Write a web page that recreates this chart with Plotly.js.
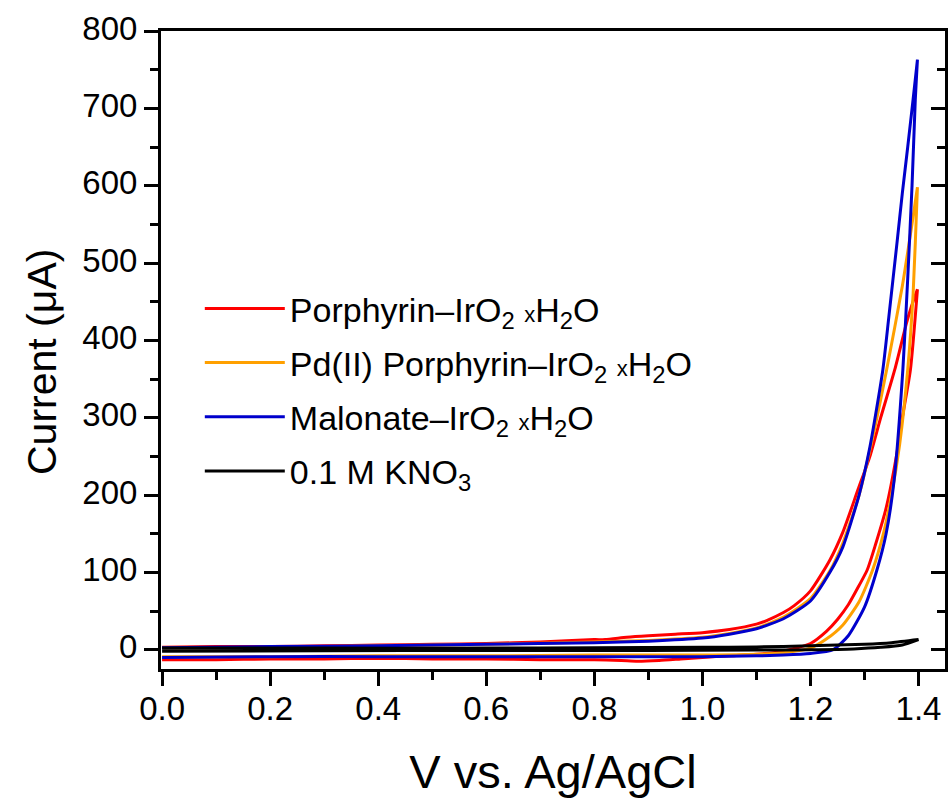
<!DOCTYPE html>
<html>
<head>
<meta charset="utf-8">
<script src="https://cdn.plot.ly/plotly-3.0.1.min.js"></script>
<style>html,body{margin:0;padding:0;background:#fff;}#chart{width:948px;height:798px;}</style>
</head>
<body>
<div id="chart"></div>
<script>
// ---- Data (V vs. Ag/AgCl, current in µA) ----
// Porphyrin–IrO2·xH2O : forward (lower) branch, then return (upper) branch
var porphFwdV = [0, 0.1, 0.2, 0.3, 0.4, 0.5, 0.6, 0.7, 0.8, 0.85, 0.88, 0.92, 0.96, 1.0, 1.05, 1.1, 1.15, 1.2, 1.23, 1.25, 1.27, 1.29, 1.305, 1.32, 1.34, 1.36, 1.37, 1.385, 1.398];
var porphFwdI = [-13, -13, -12, -12, -11, -12, -12, -13, -13, -14, -15, -14, -12, -10, -8, -6, -2, 8, 24, 39, 58, 83, 103, 135, 183, 254, 300, 362, 466];
var porphRevV = [1.398, 1.387, 1.378, 1.356, 1.33, 1.31, 1.288, 1.26, 1.236, 1.2, 1.17, 1.15, 1.12, 1.1, 1.05, 1.0, 0.95, 0.9, 0.86, 0.82, 0.8, 0.7, 0.6, 0.5, 0.4, 0.3, 0.2, 0.1, 0];
var porphRevI = [466, 444, 423, 362, 300, 250, 207, 152, 116, 76, 57, 48, 38, 33, 26, 22, 20, 18, 16, 13, 13, 10, 8, 7, 6, 5, 4, 4, 3];

// Pd(II) Porphyrin–IrO2·xH2O
var pdFwdV = [0, 0.2, 0.4, 0.6, 0.8, 0.9, 1.0, 1.1, 1.15, 1.2, 1.23, 1.26, 1.29, 1.315, 1.335, 1.35, 1.365, 1.38, 1.39, 1.398];
var pdFwdI = [-9, -9, -8, -8, -7, -7, -7, -6, -4, 2, 14, 32, 62, 103, 150, 200, 265, 362, 460, 598];
var pdRevV = [1.398, 1.39, 1.37, 1.341, 1.32, 1.29, 1.26, 1.236, 1.2, 1.15, 1.1, 1.05, 1.0, 0.9, 0.8, 0.6, 0.4, 0.2, 0];
var pdRevI = [598, 560, 470, 362, 290, 200, 138, 102, 66, 42, 28, 21, 16, 12, 10, 7, 5, 3, 2];

// Malonate–IrO2·xH2O
var malFwdV = [0, 0.2, 0.4, 0.6, 0.8, 0.9, 1.0, 1.1, 1.15, 1.2, 1.242, 1.27, 1.3, 1.323, 1.34, 1.355, 1.371, 1.38, 1.388, 1.394, 1.398];
var malFwdI = [-10, -9, -9, -9, -9, -9, -9, -8, -7, -5, 0, 18, 55, 103, 150, 220, 362, 480, 600, 711, 763];
var malRevV = [1.398, 1.39, 1.38, 1.37, 1.36, 1.345, 1.334, 1.31, 1.29, 1.26, 1.236, 1.2, 1.15, 1.1, 1.05, 1.0, 0.9, 0.8, 0.6, 0.4, 0.2, 0];
var malRevI = [763, 712, 650, 590, 525, 430, 362, 262, 200, 133, 100, 63, 40, 27, 20, 15, 11, 9, 7, 5, 4, 2.5];

// 0.1 M KNO3 blank
var kno3FwdV = [0, 0.3, 0.6, 0.9, 1.1, 1.2, 1.28, 1.33, 1.37, 1.4];
var kno3FwdI = [-2, -1.5, -1, -1, -0.5, 0, 1, 3, 6, 13];
var kno3RevV = [1.4, 1.35, 1.3, 1.2, 1.1, 1.0, 0.8, 0.6, 0.3, 0];
var kno3RevI = [13, 9, 7, 5, 3.5, 3, 2.5, 2, 2, 2];

var seriesNames = [
  'Porphyrin\u2013IrO<sub>2</sub> <span style="font-size:22px">x</span>H<sub>2</sub>O',
  'Pd(II) Porphyrin\u2013IrO<sub>2</sub> <span style="font-size:22px">x</span>H<sub>2</sub>O',
  'Malonate\u2013IrO<sub>2</sub> <span style="font-size:22px">x</span>H<sub>2</sub>O',
  '0.1 M KNO<sub>3</sub>'
];
var seriesColors = ['#ff0000', '#ffa000', '#0000cc', '#000000'];
var yTickVals = [0, 100, 200, 300, 400, 500, 600, 700, 800];
var xTickVals = [0.0, 0.2, 0.4, 0.6, 0.8, 1.0, 1.2, 1.4];
var xTitle = 'V vs. Ag/AgCl';
var yTitle = 'Current (\u03bcA)';

// ---- Build traces (each CV is a closed loop: forward branch + return branch) ----
var loops = [
  [porphFwdV.concat(porphRevV), porphFwdI.concat(porphRevI)],
  [pdFwdV.concat(pdRevV), pdFwdI.concat(pdRevI)],
  [malFwdV.concat(malRevV), malFwdI.concat(malRevI)],
  [kno3FwdV.concat(kno3RevV), kno3FwdI.concat(kno3RevI)]
];
var traces = loops.map(function (lp, i) {
  return {
    x: lp[0], y: lp[1], type: 'scatter', mode: 'lines',
    name: seriesNames[i], legendgroup: 'g' + i,
    yaxis: (i === 3 ? 'y2' : 'y'),
    line: {color: seriesColors[i], width: 3, shape: 'spline', smoothing: 0.6},
    hoverinfo: 'skip'
  };
});

var FONT = 'Arial, "Liberation Sans", sans-serif';
var yRange = [-25, 800];

var layout = {
  width: 948, height: 798,
  margin: {l: 161, r: 3, t: 31, b: 129, pad: 0},
  paper_bgcolor: '#ffffff', plot_bgcolor: '#ffffff',
  font: {family: FONT, color: '#000000', size: 33},
  showlegend: true,
  legend: {
    x: 0.0495, y: 0.61, xanchor: 'left', yanchor: 'top',
    bgcolor: 'rgba(0,0,0,0)', borderwidth: 0,
    font: {family: FONT, size: 34, color: '#000'},
    itemwidth: 80, tracegroupgap: 7, itemclick: false
  },
  xaxis: {
    range: [-0.002, 1.449], showgrid: false, zeroline: false,
    showline: true, linewidth: 3, linecolor: '#000', mirror: true,
    ticks: 'outside', ticklen: 14, tickwidth: 3, tickcolor: '#000',
    tickmode: 'array', tickvals: xTickVals, tickformat: '.1f',
    ticklabelstandoff: -6,
    minor: {ticks: 'outside', ticklen: 8, tickwidth: 3, dtick: 0.1, tick0: 0, tickcolor: '#000', showgrid: false},
    tickfont: {family: FONT, size: 33},
    title: {text: xTitle, font: {family: FONT, size: 47}, standoff: 33}
  },
  yaxis: {
    range: yRange, showgrid: false, zeroline: false,
    showline: true, linewidth: 3, linecolor: '#000', mirror: true,
    ticks: 'outside', ticklen: 14, tickwidth: 3, tickcolor: '#000',
    tickmode: 'array', tickvals: yTickVals,
    ticklabelshift: -3,
    minor: {ticks: 'outside', ticklen: 8, tickwidth: 3, dtick: 50, tick0: 0, tickcolor: '#000', showgrid: false},
    tickfont: {family: FONT, size: 33}
  },
  yaxis2: {
    overlaying: 'y', side: 'right', anchor: 'x',
    range: yRange, showgrid: false, zeroline: false, showline: false,
    showticklabels: false,
    ticks: 'inside', ticklen: 14, tickwidth: 3, tickcolor: '#000',
    tickmode: 'array', tickvals: yTickVals,
    minor: {ticks: 'inside', ticklen: 8, tickwidth: 3, dtick: 50, tick0: 0, tickcolor: '#000', showgrid: false}
  },
  annotations: [{
    text: yTitle, textangle: -90, showarrow: false,
    xref: 'paper', yref: 'paper', xanchor: 'center', yanchor: 'middle',
    x: (42 - 161) / 784, y: (669 - 362) / 638,
    font: {family: FONT, size: 41, color: '#000'}
  }]
};

Plotly.newPlot('chart', traces, layout, {staticPlot: true, displayModeBar: false});
</script>
</body>
</html>
